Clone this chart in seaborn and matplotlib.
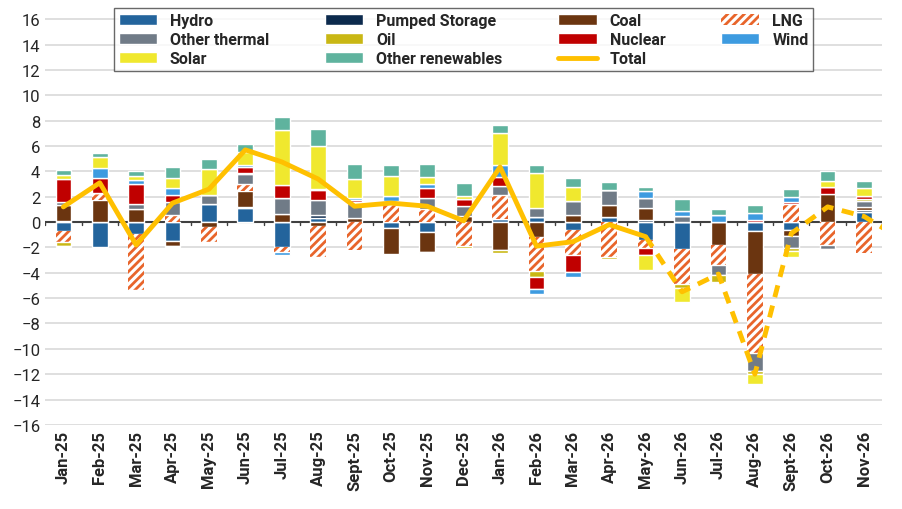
import numpy as np
import pandas as pd
import matplotlib
matplotlib.use('Agg')
import matplotlib.pyplot as plt
import seaborn as sns

months = ['Jan-25', 'Feb-25', 'Mar-25', 'Apr-25', 'May-25', 'Jun-25', 'Jul-25', 'Aug-25',
          'Sept-25', 'Oct-25', 'Nov-25', 'Dec-25', 'Jan-26', 'Feb-26', 'Mar-26', 'Apr-26',
          'May-26', 'Jun-26', 'Jul-26', 'Aug-26', 'Sept-26', 'Oct-26', 'Nov-26']

# month-on-month change by source (positive and negative parts mixed per month)
hydro = [-0.67, -2.0, -0.97, -1.47, 1.45, 1.12, -1.93, 0.32, 0, -0.5, -0.8, 0, 0.25,
         0.37, -0.62, 0.37, -1.42, -2.15, 0, -0.7, -0.62, 0, 0.8]
pumped = [0.05, 0, 0, 0, 0, 0.1, 0, 0.2, 0, 0, 0, 0, 0, 0, 0, 0, 0.19, 0, 0, 0, 0, 0, 0.13]
coal = [1.3, 1.75, 1.0, -0.38, -0.35, 1.23, 0.65, -0.27, 0.32, -2.05, -1.55, 0.45, -2.2,
        -1.15, 0.53, 0.97, 0.94, 0, -1.82, -3.4, -0.45, 2.2, 0.24]
lng = [-0.9, 0.55, -4.35, 0.55, -1.25, 0.55, -0.43, -2.5, -2.2, 1.4, 1.0, -1.87, 1.87,
       -2.73, -2.0, -2.76, -0.6, -2.76, -1.55, -6.25, 1.45, -1.77, -2.4]
other_thermal = [0.27, 0, 0.45, 1.0, 0.7, 0.8, 1.23, 1.2, 1.2, 0, 0.9, 0.85, 0.72, 0.75,
                 1.12, 1.18, 0.75, 0.45, -0.8, -1.4, -0.97, -0.32, 0.48]
oil = [-0.3, 0, -0.08, -0.08, -0.08, 0.05, 0.05, -0.08, 0.08, 0.1, -0.05, -0.2, -0.27,
       -0.48, 0, -0.19, 0, -0.27, -0.59, -0.2, -0.27, -0.05, 0.19]
nuclear = [1.75, 1.2, 1.55, 0.6, 0, 0.53, 1.0, 0.85, 0.13, 0.2, 0.8, 0.55, 0.75, -0.94,
           -1.34, 0, -0.54, 0, 0, 0.2, 0.16, 0.54, 0.21]
wind = [-0.08, 0.75, 0.35, 0.55, 0, 0.15, -0.2, 0.05, 0.19, 0.37, 0.32, 0, 0.9, -0.35,
        -0.4, 0, 0.54, 0.45, 0.54, 0.54, 0.37, 0, 0]
solar = [0.37, 0.85, 0.25, 0.8, 2.0, 1.0, 4.3, 3.4, 1.45, 1.6, 0.55, 0.2, 2.57, 2.73,
         1.12, 0, -1.23, -1.15, 0, -0.86, -0.46, 0.54, 0.62]
other_ren = [0.4, 0.38, 0.45, 0.85, 0.8, 0.67, 1.07, 1.3, 1.23, 0.8, 1.0, 1.0, 0.6, 0.67,
             0.7, 0.67, 0.38, 0.9, 0.5, 0.6, 0.62, 0.72, 0.59]
# total line, last value is the following month (clipped at the axis edge)
total = [1.2, 3.1, -1.8, 1.5, 2.6, 5.7, 4.75, 3.4, 1.25, 1.5, 1.25, 0.1, 4.35, -1.9,
         -1.55, -0.2, -1.15, -5.5, -4.1, -12.0, -0.9, 1.2, 0.45, -1.3]

series = [('Hydro', hydro, '#23649c'), ('Pumped Storage', pumped, '#0c2a4d'),
          ('Coal', coal, '#6b3510'), ('LNG', lng, 'white'),
          ('Other thermal', other_thermal, '#707b87'), ('Oil', oil, '#c9b714'),
          ('Nuclear', nuclear, '#c00000'), ('Wind', wind, '#3d9be0'),
          ('Solar', solar, '#f0e82e'), ('Other renewables', other_ren, '#5fb39e')]

sns.set_style('white')
plt.rcParams['font.family'] = ['Roboto', 'DejaVu Sans']
plt.rcParams['hatch.color'] = '#e8652b'
plt.rcParams['hatch.linewidth'] = 2.0

fig, ax = plt.subplots(figsize=(9.03, 5.10), dpi=100)
x = np.arange(len(months))
pos_base = np.zeros(len(months))
neg_base = np.zeros(len(months))
handles = {}
for name, vals, color in series:
    v = np.array(vals, dtype=float)
    bottom = np.where(v >= 0, pos_base, neg_base)
    if name == 'LNG':
        h = ax.bar(x, v, 0.43, bottom=bottom, color='white', hatch='////', edgecolor='#e8652b',
                   linewidth=0, label=name, zorder=2)
    else:
        h = ax.bar(x, v, 0.43, bottom=bottom, color=color, label=name, zorder=2)
    handles[name] = h
    pos_base += np.where(v >= 0, v, 0)
    neg_base += np.where(v < 0, v, 0)

tot = pd.DataFrame({'i': np.arange(len(total)), 'total': total})
sns.lineplot(data=tot[tot.i <= 16], x='i', y='total', color='#ffc000', lw=3.5,
             ax=ax, label='Total', zorder=3)
sns.lineplot(data=tot[tot.i >= 16], x='i', y='total', color='#ffc000', lw=3.5,
             ax=ax, linestyle=(0, (2.5, 1.8)), zorder=3, legend=False)
handles['Total'] = ax.get_lines()[0]

ax.set_xlim(-0.5, len(months) - 0.5)
ax.set_ylim(-16, 17)
ax.set_yticks(range(-16, 17, 2))
ax.tick_params(axis='y', labelsize=12, length=0)
ax.set_xticks(x)
ax.set_xticklabels(months, rotation=90, fontsize=12, fontweight='bold')
ax.tick_params(axis='x', length=0)
ax.grid(axis='y', color='#d9d9d9', lw=1.2, zorder=0)
ax.axhline(0, color='#404040', lw=1.5, zorder=1)
for b in np.arange(-0.5, len(months), 1):
    ax.plot([b, b], [0, -0.25], color='#404040', lw=1, zorder=1)
for s in ax.spines.values():
    s.set_visible(False)
ax.set_xlabel('')
ax.set_ylabel('')

# column-major order so the legend reads row by row
order = ['Hydro', 'Other thermal', 'Solar', 'Pumped Storage', 'Oil', 'Other renewables',
         'Coal', 'Nuclear', 'Total', 'LNG', 'Wind']
ax.legend([handles[k] for k in order], order, loc='upper center', ncol=4,
          frameon=True, fancybox=False, edgecolor='#444444', bbox_to_anchor=(0.5, 1.015),
          columnspacing=3.5, handlelength=2.4, borderpad=0.3, labelspacing=0.25,
          prop={'weight': 'bold', 'size': 11.5})

plt.subplots_adjust(left=0.05, right=0.977, top=0.985, bottom=0.165)
fig.savefig('out.png', dpi=100)
